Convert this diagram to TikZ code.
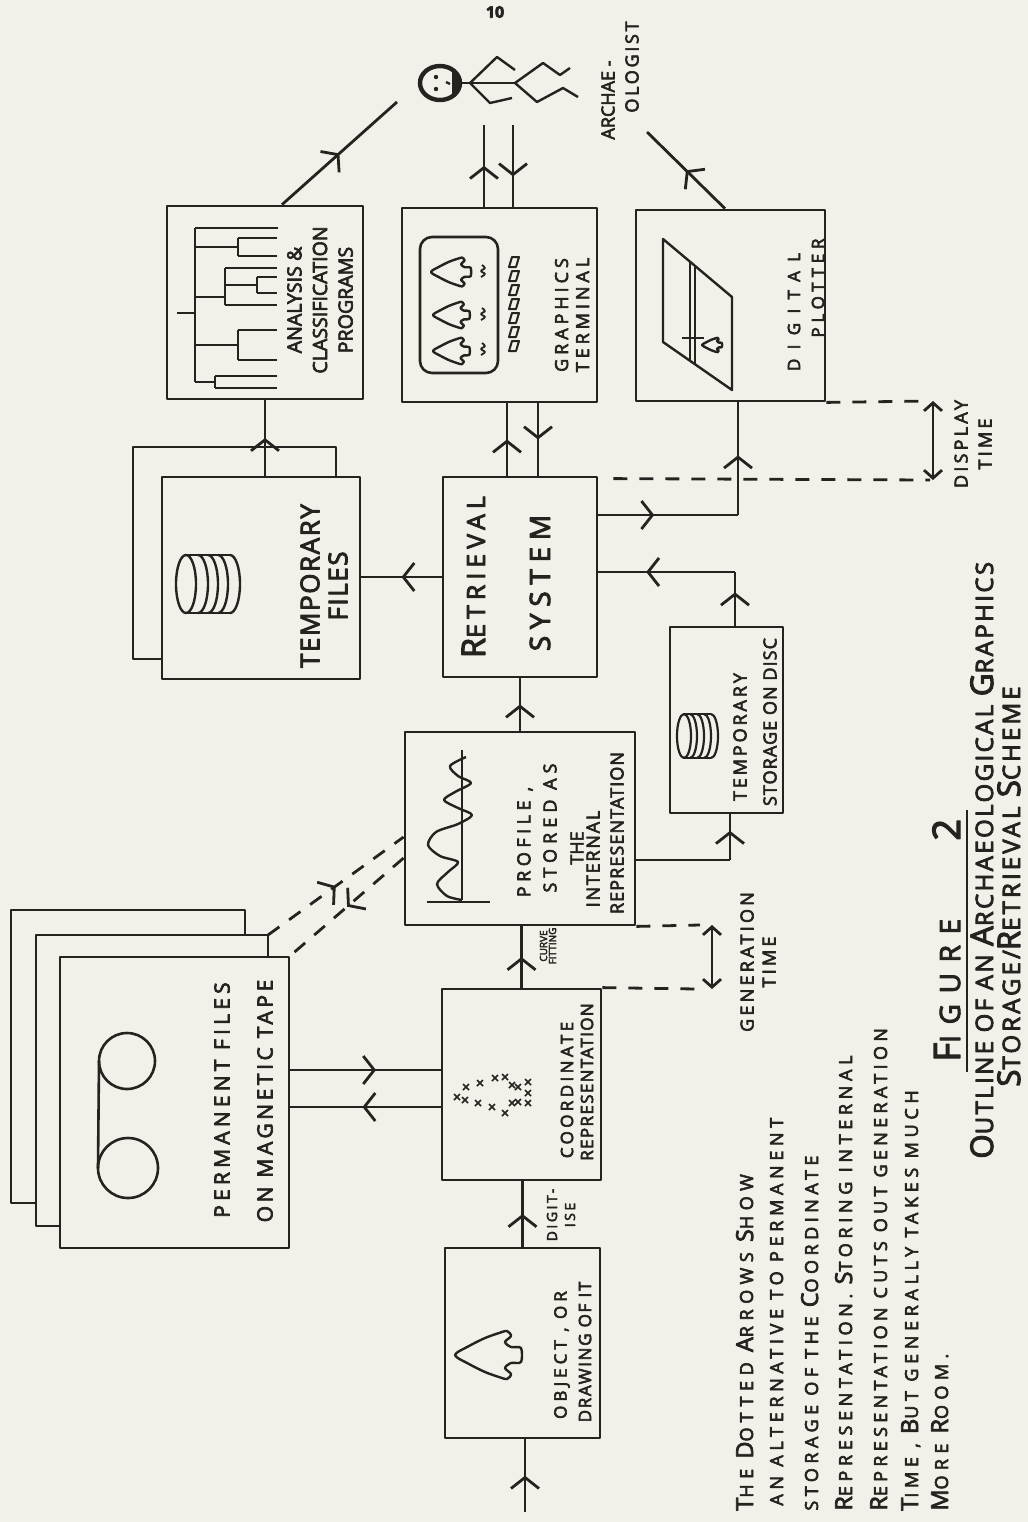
\documentclass[tikz,border=0pt]{standalone}
\usepackage{fontspec}
\setmainfont{Open Sans}
\newfontfamily\hand[FakeBold=3.5]{Open Sans}
\usepackage{graphicx}
\usetikzlibrary{arrows.meta,decorations.markings,calc}
\definecolor{paper}{RGB}{243,239,233}
\definecolor{ink}{RGB}{38,34,32}
\newcommand\F[3]{\hand\fontsize{#1}{#2}\selectfont\addfontfeatures{LetterSpace=#3}}
\newcommand\Ini[1]{\scalebox{1.3}{#1}}
\tikzset{
  chev/.tip={Straight Barb[length=5.5pt,width=14pt]},
  tmtip/.tip={Straight Barb[length=4pt,width=9pt]},
  box/.style={draw,line width=1.4pt,inner sep=0pt},
  lab/.style={rotate=90,inner sep=0pt,align=center},
  dline/.style={dash pattern=on 7pt off 6pt},
  midarr/.style={postaction={decorate,decoration={markings,mark=at position #1 with {\arrow{chev}}}}},
  midarr/.default=0.5,
  spear/.pic={\draw[line width=1.2pt] plot[smooth cycle,tension=0.5] coordinates {(0,0) (14,-9) (30,-17) (44,-22) (52,-24) (56,-19) (50,-13) (56,-8) (66,-7) (66,7) (56,8) (50,13) (56,19) (52,24) (44,22) (30,17) (14,9)};}
}
\begin{document}
\begin{tikzpicture}[x=0.5pt,y=-0.5pt,line width=1.4pt,color=ink,line join=round]
\fill[paper] (0,0) rectangle (1028,1522);
\useasboundingbox (0,0) rectangle (1028,1522);

% page number
\node[inner sep=0pt,font={\hand\bfseries\fontsize{8}{9}\selectfont}] (pgnum) at (495,12) {10};

% ---------------- boxes ----------------
\node[box,minimum width=98pt,minimum height=96.5pt] (anal) at (265,302.5) {};
\node[box,minimum width=97.5pt,minimum height=97pt] (term) at (499.5,305) {};
\node[box,minimum width=94.5pt,minimum height=95.5pt] (plot) at (730.5,305.5) {};
\node[box,minimum width=99pt,minimum height=101pt] (tmpf) at (261,578) {};
\node[box,minimum width=77pt,minimum height=100pt] (ret) at (520,577) {};
\node[box,minimum width=56.5pt,minimum height=93pt] (disc) at (726.5,720) {};
\node[box,minimum width=115pt,minimum height=96.5pt] (prof) at (520,828.5) {};
\node[box,minimum width=79.5pt,minimum height=95.5pt] (coord) at (521.5,1084.5) {};
\node[box,minimum width=77.5pt,minimum height=95pt] (obj) at (522.5,1343) {};
\node[box,minimum width=114.5pt,minimum height=145.5pt] (perm) at (174.5,1102.5) {};

% back sheets
\draw (162,659) -- (133,659) -- (133,447) -- (336,447) -- (336,477);
\draw (60,1226) -- (36,1226) -- (36,935) -- (268,935) -- (268,957);
\draw (36,1203) -- (11,1203) -- (11,910) -- (245,910) -- (245,935);

% ---------------- box labels ----------------
\node[lab,font={\F{9.8}{12.8}{0}}] (analtxt) at (320,300) {ANALYSIS \&\\CLASSIFICATION\\PROGRAMS};
\node[lab,font={\F{9}{10.5}{22}}] (termtxt) at (572,315) {GRAPHICS\\TERMINAL};
\node[lab,font={\F{8.5}{10}{55}}] (plota) at (794,312) {DIGITAL};
\node[lab,font={\F{8.5}{10}{28}}] (plotb) at (818,288) {PLOTTER};
\node[lab,font={\F{13}{14}{6}}] (tmpftxt) at (324,586) {TEMPORARY\\FILES};
\node[lab,anchor=base,font={\F{12.5}{14}{20}}] (ret1) at (485,577) {\Ini{R}ETRIEVAL};
\node[lab,anchor=base,font={\F{14}{16}{24}}] (ret2) at (550,583) {SYSTEM};
\node[lab,font={\F{9}{10}{16}}] (disca) at (740,737) {TEMPORARY};
\node[lab,font={\F{9}{10}{6}}] (discb) at (770,722) {STORAGE ON DISC};
\node[lab,font={\F{9}{10}{25}}] (pr1) at (525,842) {PROFILE ,};
\node[lab,font={\F{9}{10}{28}}] (pr2) at (550,828) {STORED AS};
\node[lab,font={\F{9}{10}{0}}] (pr3) at (577,848) {THE};
\node[lab,font={\F{9}{10}{10}}] (pr4) at (593,859) {INTERNAL};
\node[lab,font={\F{9}{10}{6}}] (pr5) at (617,833) {REPRESENTATION};
\node[lab,font={\F{8.5}{10}{20}}] (co1) at (567,1090) {COORDINATE};
\node[lab,font={\F{8.5}{10}{8}}] (co2) at (587,1082) {REPRESENTATION};
\node[lab,font={\F{8.5}{10}{24}}] (ob1) at (562,1355) {OBJECT , OR};
\node[lab,font={\F{8.5}{10}{10}}] (ob2) at (585,1352) {DRAWING OF IT};
\node[lab,font={\F{10.5}{12}{20}}] (pm1) at (222,1100) {PERMANENT FILES};
\node[lab,font={\F{10.5}{12}{17}}] (pm2) at (265,1101) {ON MAGNETIC TAPE};
\node[lab,font={\F{9}{10}{0}}] (ar1) at (608,100) {ARCHAE -};
\node[lab,font={\F{9}{10}{15}}] (ar2) at (632,67) {OLOGIST};
\node[lab,font={\F{5}{4.5}{0}}] (curve) at (548,946) {CURVE\\FITTING};
\node[lab,font={\F{7}{9}{18}}] (digit) at (561,1215) {DIGIT-\\ISE};
\node[lab,font={\F{9}{11}{18}}] (gentxt) at (758,962) {GENERATION\\TIME};
\node[lab,font={\F{9}{12}{18}}] (disptxt) at (973,444) {DISPLAY\\TIME};

% ---------------- notes and caption ----------------
\node[lab,anchor=base west,font={\F{9}{10}{31}}] (n1) at (753,1512) {\Ini{T}HE \Ini{D}OTTED \Ini{A}RROWS \Ini{S}HOW};
\node[lab,anchor=base west,font={\F{9}{10}{26}}] (n2) at (783,1507) {AN ALTERNATIVE TO PERMANENT};
\node[lab,anchor=base west,font={\F{9}{10}{25}}] (n3) at (818,1512) {STORAGE OF THE \Ini{C}OORDINATE};
\node[lab,anchor=base west,font={\F{9}{10}{26}}] (n4) at (852,1512) {\Ini{R}EPRESENTATION. \Ini{S}TORING INTERNAL};
\node[lab,anchor=base west,font={\F{9}{10}{24}}] (n5) at (887,1512) {\Ini{R}EPRESENTATION CUTS OUT GENERATION};
\node[lab,anchor=base west,font={\F{9}{10}{26}}] (n6) at (918,1512) {\Ini{T}IME , \Ini{B}UT GENERALLY TAKES MUCH};
\node[lab,anchor=base west,font={\F{9}{10}{30}}] (n7) at (948,1512) {\Ini{M}ORE \Ini{R}OOM.};

\node[lab,anchor=base west,font={\F{14}{16}{38}}] (fig1) at (960,1063) {\Ini{F}IGURE};
\node[lab,anchor=base west,font={\F{19}{20}{0}}] (fig2) at (960,842) {2};
\draw[line width=1.3pt] (967,1072) -- (967,810);
\node[lab,anchor=base west,font={\F{12}{14}{10}}] (cap1) at (993,1160) {\Ini{O}UTLINE OF AN \Ini{A}RCHAEOLOGICAL \Ini{G}RAPHICS};
\node[lab,anchor=base west,font={\F{12}{14}{13}}] (cap2) at (1020,1088) {\Ini{S}TORAGE/\Ini{R}ETRIEVAL \Ini{S}CHEME};

% ---------------- icons ----------------
% dendrogram
\begin{scope}[line width=1.2pt]
\draw (177,313) -- (195,313);
\draw (195,228) -- (195,382);
\draw (195,228) -- (278,228);
\draw (195,247) -- (238,247) (238,238) -- (238,256) (238,238) -- (277,238) (238,256) -- (277,256);
\draw (195,297) -- (225,297) (225,268) -- (225,305) (225,268) -- (277,268) (225,305) -- (277,305);
\draw (225,285) -- (257,285) (257,277) -- (257,293) (257,277) -- (277,277) (257,293) -- (277,293);
\draw (195,345) -- (238,345) (238,330) -- (238,360) (238,330) -- (277,330) (238,360) -- (277,360);
\draw (195,382) -- (215,382) (215,376) -- (215,388) (215,376) -- (277,376) (215,388) -- (277,388);
\end{scope}

% graphics terminal screen
\draw[line width=1.3pt,rounded corners=6pt] (420,237) rectangle (498,373);
\pic[scale=0.6] at (431,272) {spear};
\pic[scale=0.55] at (433,315) {spear};
\pic[scale=0.55] at (433,351) {spear};
\foreach \yy in {272,315,350}
  \draw[line width=0.9pt] plot[smooth] coordinates {(482,\yy-7) (485,\yy-4) (481,\yy-1) (485,\yy+2) (481,\yy+5)};
\foreach \yy in {257,271,285,299,313,327,341}
  \draw[line width=1pt] (509,\yy+10) -- (512,\yy) -- (519,\yy) -- (516,\yy+10) -- cycle;

% digital plotter
\draw[line width=1.2pt] (663,239) -- (663,342) -- (732,390) -- (732,297) -- cycle;
\draw[line width=1.1pt] (690,262) -- (690,361) (695,266) -- (695,364);
\draw[line width=1.1pt] (682,338) -- (704,338);
\pic[scale=0.3] at (702,345) {spear};

% temporary files disk
\begin{scope}[line width=1.2pt]
\draw (186,584) ellipse [x radius=10, y radius=29];
\draw (186,555) -- (230,555) (186,613) -- (230,613);
\foreach \cx in {198,208,218,230}
  \draw (\cx,555) arc [start angle=-90, end angle=90, x radius=10, y radius=29];
\end{scope}

% disc storage icon
\begin{scope}[line width=1.1pt]
\draw (684,736) ellipse [x radius=7, y radius=22];
\draw (684,714) -- (711,714) (684,758) -- (711,758);
\foreach \cx in {690,697,704,711}
  \draw (\cx,714) arc [start angle=-90, end angle=90, x radius=7, y radius=22];
\end{scope}

% profile wave
\begin{scope}[line width=1.2pt]
\draw (462,750) -- (462,900);
\draw (427,902) -- (490,902);
\draw plot[smooth] coordinates {(466,757) (450,766) (458,776) (471,783) (455,792) (444,800) (458,808) (472,815) (458,824) (436,832) (428,845) (440,856) (458,862) (448,872) (437,884) (447,896) (462,900)};
\end{scope}

% coordinate crosses
\foreach \p in {(457,1097),(466,1087),(480,1083),(495,1078),(505,1077),(512,1085),(518,1087),(528,1082),(528,1093),(528,1103),(518,1102),(512,1103),(505,1113),(492,1107),(478,1103),(465,1100)}
  \draw[line width=0.8pt] \p +(-3,-3) -- +(3,3) \p +(-3,3) -- +(3,-3);

% object spear
\pic at (455,1355) {spear};

% tape reels
\begin{scope}[line width=1.3pt]
\draw (127,1061) circle [radius=28];
\draw (128,1168) circle [radius=30];
\draw (99,1061) -- (98,1168);
\end{scope}

% archaeologist figure
\coordinate (head) at (440,83);
\draw[line width=2.2pt] (head) ellipse [x radius=20, y radius=17];
\begin{scope}
\clip (head) ellipse [x radius=20, y radius=17];
\fill (452,60) rectangle (465,106);
\end{scope}
\fill (436,77) circle [radius=2.2];
\fill (436,89) circle [radius=2.2];
\draw[line width=1.2pt] (446,82) -- (450,84);
\begin{scope}[line width=1.2pt]
\draw (460,83) -- (515,83);
\draw (470,83) -- (497,57) -- (515,70);
\draw (470,83) -- (490,103) -- (512,98);
\draw (515,83) -- (543,63) -- (560,75) -- (570,68);
\draw (515,83) -- (537,102) -- (563,88) -- (578,97);
\end{scope}

% ---------------- connectors ----------------
\coordinate (inp) at (525,1512);
\draw[midarr] (inp) -- (inp |- obj.south);
\draw[midarr] (obj.north) -- (obj.north |- coord.south);
\draw[midarr] (coord.north) -- (coord.north |- prof.south);
\draw[midarr] (prof.north) -- (prof.north |- ret.south);

\coordinate (rt1) at ($(ret.north)+(-13,0)$);
\coordinate (rt2) at ($(ret.north)+(18,0)$);
\draw[midarr] (rt1) -- (rt1 |- term.south);
\draw[midarr] (rt2 |- term.south) -- (rt2);

\coordinate (tp1) at ($(term.north)+(-15.5,0)$);
\coordinate (tp2) at ($(term.north)+(13.5,0)$);
\coordinate (arch1) at (484,125);
\coordinate (arch2) at (513,125);
\draw[midarr] (tp1) -- (arch1);
\draw[midarr=0.63] (arch2) -- (tp2);

\coordinate (an1) at ($(anal.north)+(17,0)$);
\coordinate (arch3) at (397,102);
\draw[midarr] (an1) -- (arch3);

\coordinate (pl1) at ($(plot.north)+(-5.5,0)$);
\coordinate (arch4) at (647,132);
\draw[midarr] (pl1) -- (arch4);

\draw[midarr] (anal.south |- tmpf.north) -- (anal.south);
\draw[midarr] (ret.west) -- (ret.west -| tmpf.east);

\coordinate (rp) at (738,515);
\draw[midarr=0.4] (ret.east |- rp) -- (rp);
\draw[midarr=0.53] (rp) -- (rp |- plot.south);

\coordinate (dr) at (735,572);
\draw[midarr=0.62] (dr |- disc.north) -- (dr);
\draw[midarr=0.65] (dr) -- (dr -| ret.east);

\coordinate (pd) at (730,860);
\draw (prof.east |- pd) -- (pd);
\draw[midarr=0.64] (pd) -- (pd |- disc.south);

\coordinate (pc1) at ($(perm.east)+(0,-32.5)$);
\coordinate (pc2) at ($(perm.east)+(0,4.5)$);
\draw[midarr=0.57] (pc1) -- (pc1 -| coord.west);
\draw[midarr=0.52] (pc2 -| coord.west) -- (pc2);

% dotted alternatives
\coordinate (pmid) at (268,935);
\coordinate (pf1) at ($(prof.west)+(0,8.5)$);
\coordinate (pf2) at ($(prof.west)+(0,29.5)$);
\draw[dline,midarr] (pmid) -- (pf1);
\draw[dline,midarr] (pf2) -- (perm.north east);

% generation time
\coordinate (g1) at (697,989);
\coordinate (g2) at (700,925);
\draw[dline] (coord.north east) -- (g1);
\draw[dline] (prof.south east) -- (g2);
\coordinate (ga) at (712,925);
\coordinate (gb) at (712,989);
\draw[tmtip-tmtip] (ga) -- (gb);

% display time
\coordinate (d1) at (930,401);
\coordinate (d2s) at ($(ret.north east)+(15,3)$);
\coordinate (d2) at (930,480);
\draw[dline] (plot.south east) -- (d1);
\draw[dline] (d2s) -- (d2);
\coordinate (da) at (933,401);
\coordinate (db) at (933,480);
\draw[tmtip-tmtip] (da) -- (db);
\end{tikzpicture}
\end{document}
